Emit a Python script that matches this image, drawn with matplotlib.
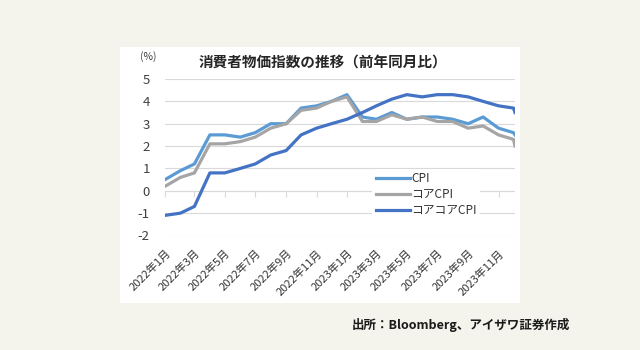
import numpy as np
import pandas as pd
import matplotlib
matplotlib.use("Agg")
import matplotlib.pyplot as plt
from matplotlib.patches import Rectangle

plt.rcParams['font.family'] = ['Noto Sans CJK JP', 'DejaVu Sans']

# monthly data 2022/1 - 2023/12, plus the last drop (2024/1 value drawn at the edge)
months = list(pd.date_range('2022-01-01', periods=24, freq='MS')) + [pd.Timestamp('2023-12-04')]
cpi = [0.5, 0.9, 1.2, 2.5, 2.5, 2.4, 2.6, 3.0, 3.0, 3.7, 3.8, 4.0,
       4.3, 3.3, 3.2, 3.5, 3.2, 3.3, 3.3, 3.2, 3.0, 3.3, 2.8, 2.6, 2.5]
core = [0.2, 0.6, 0.8, 2.1, 2.1, 2.2, 2.4, 2.8, 3.0, 3.6, 3.7, 4.0,
        4.2, 3.1, 3.1, 3.4, 3.2, 3.3, 3.1, 3.1, 2.8, 2.9, 2.5, 2.3, 2.0]
corecore = [-1.1, -1.0, -0.7, 0.8, 0.8, 1.0, 1.2, 1.6, 1.8, 2.5, 2.8, 3.0,
            3.2, 3.5, 3.8, 4.1, 4.3, 4.2, 4.3, 4.3, 4.2, 4.0, 3.8, 3.7, 3.5]
series_names = ['CPI', 'コアCPI', 'コアコアCPI']
colors = ['#5B9BD5', '#A5A5A5', '#4472C4']

tick_months = months[0:24:2]
tick_labels = [f'{d.year}年{d.month}月' for d in tick_months]
yticks = [-2, -1, 0, 1, 2, 3, 4, 5]

fig = plt.figure(figsize=(6.4, 3.5), dpi=100)
fig.patch.set_facecolor('#F4F3EC')
# white chart panel
fig.patches.append(Rectangle((120/640, 47/350), 400/640, 256/350, transform=fig.transFigure,
                             facecolor='white', edgecolor='none', zorder=-5))

ax = fig.add_axes([165/640, (350-235.5)/350, 350/640, 156.5/350])
ax.set_facecolor('none')

for vals, name, c in zip([cpi, core, corecore], series_names, colors):
    ax.plot(months, vals, color=c, lw=2.3, label=name, solid_joinstyle='round')

ax.set_xlim(months[0], months[-1])
ax.set_ylim(-2, 5)
ax.set_yticks(yticks)
ax.set_yticklabels([str(v) for v in yticks])
ax.grid(axis='y', color='#D9D9D9', lw=0.8)
ax.set_axisbelow(True)
for s in ax.spines.values():
    s.set_visible(False)
ax.tick_params(axis='y', length=0, pad=11, labelsize=9.5, labelcolor='#404040')

ax.set_xticks(tick_months)
ax.set_xticklabels(tick_labels, rotation=45, ha='right', va='top', rotation_mode='anchor')
ax.tick_params(axis='x', length=0, pad=9, labelsize=8, labelcolor='#333333')

# zero axis line with tick marks
ax.axhline(0, color='#D9D9D9', lw=0.8, zorder=1)
sec = ax.secondary_xaxis(2/7)
sec.set_xticks(tick_months)
sec.set_xticklabels([])
sec.tick_params(axis='x', length=4, color='#D9D9D9', direction='out')
sec.spines['bottom'].set_visible(False)

leg = ax.legend(loc='upper left', bbox_to_anchor=(0.575, 0.465), frameon=True, fontsize=8.5,
                handlelength=2.9, handletextpad=0.1, labelspacing=0.25, borderpad=0.3)
leg.get_frame().set_facecolor('white')
leg.get_frame().set_edgecolor('none')
leg.get_frame().set_alpha(1)
for t in leg.get_texts():
    t.set_color('#333333')

fig.text(323/640, 1 - 62/350, '消費者物価指数の推移（前年同月比）', ha='center', va='center',
         fontsize=10.5, fontweight='bold', color='#262626')
fig.text(148/640, 1 - 57/350, '(%)', ha='center', va='center', fontsize=7.5, color='#404040')
fig.text(570/640, 1 - 325/350, '出所：Bloomberg、アイザワ証券作成', ha='right', va='center',
         fontsize=9, fontweight='bold', color='#1a1a1a')

fig.savefig('out.png', dpi=100, facecolor=fig.get_facecolor())
